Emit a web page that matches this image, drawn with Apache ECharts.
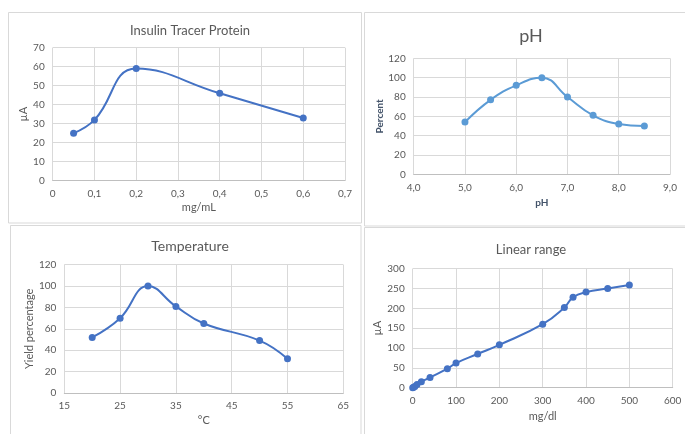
<!DOCTYPE html>
<html>
<head>
<meta charset="utf-8">
<script src="https://cdn.jsdelivr.net/npm/echarts@6/dist/echarts.min.js"></script>
<style>
html,body{margin:0;padding:0;background:#fff;}
#c{width:685px;height:434px;}
</style>
</head>
<body>
<div id="c"></div>
<script>
// ---- data ----
const insulinTitle = 'Insulin Tracer Protein';
const insulinX = [0.05, 0.1, 0.2, 0.4, 0.6];
const insulinY = [25, 32, 59, 46, 33];

const phTitle = 'pH';
const phX = [5.0, 5.5, 6.0, 6.5, 7.0, 7.5, 8.0, 8.5];
const phY = [54, 77, 92, 100, 80, 61, 52, 50];

const tempTitle = 'Temperature';
const tempX = [20, 25, 30, 35, 40, 50, 55];
const tempY = [52, 70, 100, 81, 65, 49, 32];

const linTitle = 'Linear range';
const linX = [0, 2, 5, 10, 20, 40, 80, 100, 150, 200, 300, 350, 370, 400, 450, 500];
const linY = [0, 1, 3, 8, 15, 26, 48, 62, 85, 108, 160, 202, 228, 241, 250, 259];

const pairs = (xs, ys) => xs.map((x, i) => [x, ys[i]]);

const FONT = 'Lato, "Liberation Sans", sans-serif';
const LABEL = '#595959';
const GRIDC = '#d9d9d9';

function xAxis(idx, min, max, interval, name, gap, fmt, nameStyle) {
  return {
    type: 'value', gridIndex: idx, min: min, max: max, interval: interval,
    name: name, nameLocation: 'middle', nameGap: gap,
    nameTextStyle: Object.assign({color: LABEL, fontSize: 11, fontFamily: FONT}, nameStyle || {}),
    axisLine: {show: true, onZero: false, lineStyle: {color: '#bfbfbf', width: 1}},
    axisTick: {show: false},
    axisLabel: {color: LABEL, fontSize: 10, fontFamily: FONT, margin: 8, formatter: fmt},
    splitLine: {show: true, lineStyle: {color: GRIDC, width: 1}}
  };
}
function yAxis(idx, min, max, interval, name, gap, nameStyle) {
  return {
    type: 'value', gridIndex: idx, min: min, max: max, interval: interval,
    name: name, nameLocation: 'middle', nameGap: gap,
    nameTextStyle: Object.assign({color: LABEL, fontSize: 11, fontFamily: FONT}, nameStyle || {}),
    axisLine: {show: false}, axisTick: {show: false},
    axisLabel: {color: LABEL, fontSize: 10, fontFamily: FONT, margin: 8},
    splitLine: {show: true, lineStyle: {color: GRIDC, width: 1}}
  };
}
function series(idx, data, color) {
  return {
    type: 'line', xAxisIndex: idx, yAxisIndex: idx, data: data,
    smooth: 0.45, symbol: 'circle', symbolSize: 7,
    lineStyle: {color: color, width: 2},
    itemStyle: {color: color},
    animation: false
  };
}
const commaFmt1 = v => v === 0 ? '0' : String(Math.round(v * 10) / 10).replace('.', ',');
const commaFmtFixed = v => v.toFixed(1).replace('.', ',');

const bold = {fontWeight: 'bold', color: '#44546a', fontSize: 10};

const option = {
  backgroundColor: '#fff',
  animation: false,
  title: [
    {text: insulinTitle, left: 185, top: 19, textAlign: 'center',
     textStyle: {fontSize: 13, fontWeight: 'normal', color: LABEL, fontFamily: FONT}},
    {text: phTitle, left: 526, top: 22, textAlign: 'center',
     textStyle: {fontSize: 18, fontWeight: 'normal', color: LABEL, fontFamily: FONT}},
    {text: tempTitle, left: 185, top: 234, textAlign: 'center',
     textStyle: {fontSize: 14, fontWeight: 'normal', color: LABEL, fontFamily: FONT}},
    {text: linTitle, left: 526, top: 238, textAlign: 'center',
     textStyle: {fontSize: 13, fontWeight: 'normal', color: LABEL, fontFamily: FONT}}
  ],
  grid: [
    {left: 52.7, top: 47.7, width: 292.3, height: 133},
    {left: 413.7, top: 58.3, width: 256.3, height: 116},
    {left: 64.3, top: 264.7, width: 279, height: 128.3},
    {left: 412.7, top: 268.7, width: 260, height: 119}
  ],
  xAxis: [
    xAxis(0, 0, 0.7, 0.1, 'mg/mL', 21, commaFmt1),
    xAxis(1, 4, 9, 1, 'pH', 23, commaFmtFixed, bold),
    xAxis(2, 15, 65, 10, '°C', 22),
    xAxis(3, 0, 600, 100, 'mg/dl', 23)
  ],
  yAxis: [
    yAxis(0, 0, 70, 10, 'µA', 18),
    yAxis(1, 0, 120, 20, 'Percent', 25, bold),
    yAxis(2, 0, 120, 20, 'Yield percentage', 28),
    yAxis(3, 0, 300, 50, 'µA', 23)
  ],
  series: [
    series(0, pairs(insulinX, insulinY), '#4472c4'),
    series(1, pairs(phX, phY), '#5b9bd5'),
    series(2, pairs(tempX, tempY), '#4472c4'),
    series(3, pairs(linX, linY), '#4472c4')
  ],
  graphic: [
    {type: 'rect', shape: {x: 8.5, y: 12.5, width: 353, height: 210.5}, style: {fill: 'none', stroke: '#d9d9d9', lineWidth: 1}, silent: true, z: -1},
    {type: 'rect', shape: {x: 364.5, y: 12.5, width: 322, height: 213.5}, style: {fill: 'none', stroke: '#d9d9d9', lineWidth: 1}, silent: true, z: -1},
    {type: 'rect', shape: {x: 10.5, y: 225.5, width: 350.5, height: 212}, style: {fill: 'none', stroke: '#d9d9d9', lineWidth: 1}, silent: true, z: -1},
    {type: 'rect', shape: {x: 364.5, y: 227.5, width: 322, height: 210}, style: {fill: 'none', stroke: '#d9d9d9', lineWidth: 1}, silent: true, z: -1}
  ]
};

const chart = echarts.init(document.getElementById('c'), null, {renderer: 'canvas'});
chart.setOption(option);
</script>
</body>
</html>
